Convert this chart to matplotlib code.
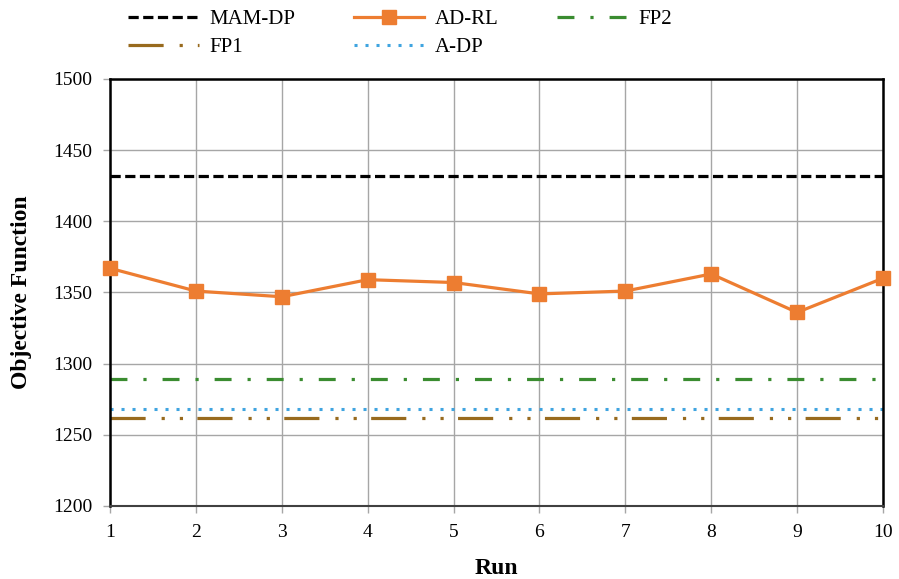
import numpy as np
import matplotlib.pyplot as plt
from matplotlib.ticker import MultipleLocator

# Objective function per run
runs = np.arange(1, 11)
ad_rl = [1367, 1351, 1347, 1359, 1357, 1349, 1351, 1363, 1336, 1360]

# constant reference levels
mam_dp = 1432
fp2 = 1289
a_dp = 1268
fp1 = 1262

plt.rcParams['font.family'] = ['Liberation Serif', 'DejaVu Serif']

fig = plt.figure(figsize=(8.99, 5.79), dpi=100)
ax = fig.add_axes([0.1224, 0.1261, 0.8598, 0.7375])

ones = np.ones(len(runs))
h_mam, = ax.plot(runs, mam_dp * ones, color='black', lw=2.3, dashes=(3.2, 1.4), label='MAM-DP')
h_ad, = ax.plot(runs, ad_rl, color='#ED7D31', lw=2.3, marker='s', markersize=10,
                label='AD-RL', zorder=5, clip_on=False)
h_fp2, = ax.plot(runs, fp2 * ones, color='#3A8C30', lw=2.3, dashes=(5.3, 5, 1, 5), label='FP2')
h_fp1, = ax.plot(runs, fp1 * ones, color='#986A1E', lw=2.3, dashes=(11, 5, 1, 4.7, 1, 4.5), label='FP1')
h_adp, = ax.plot(runs, a_dp * ones, color='#3FA4E0', lw=2.2, dashes=(1, 2.6), label='A-DP')

ax.set_xlim(1, 10)
ax.set_ylim(1200, 1500)
ax.xaxis.set_major_locator(MultipleLocator(1))
ax.yaxis.set_major_locator(MultipleLocator(50))
ax.grid(True, color='#A6A6A6', lw=1.0)
ax.set_axisbelow(True)

for side in ['left', 'right', 'top']:
    ax.spines[side].set_color('black')
    ax.spines[side].set_linewidth(1.8)
ax.spines['bottom'].set_color('#404040')
ax.spines['bottom'].set_linewidth(1.5)
ax.tick_params(axis='both', labelsize=14, color='#A6A6A6', length=5, width=1, pad=8)

ax.set_xlabel('Run', fontsize=17, fontweight='bold', labelpad=12)
ax.set_ylabel('Objective Function', fontsize=17, fontweight='bold', labelpad=15)

# legend laid out row by row like the original
handles = [h_mam, h_fp1, h_ad, h_adp, h_fp2]
fig.legend(handles=handles, labels=[h.get_label() for h in handles],
           loc='upper left', bbox_to_anchor=(0.1424, 0.983), ncol=3, frameon=False,
           fontsize=15, handlelength=3.4, columnspacing=2.8, handletextpad=0.5,
           labelspacing=0.4, borderpad=0, borderaxespad=0)

plt.savefig('out.png', dpi=100)
